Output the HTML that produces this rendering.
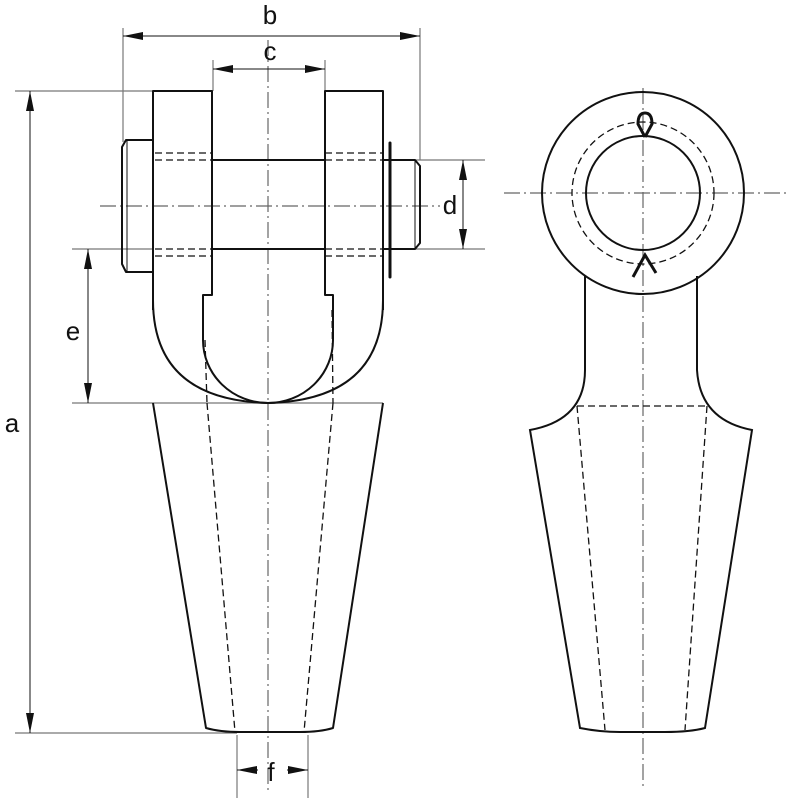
<!DOCTYPE html>
<html><head><meta charset="utf-8"><style>html,body{margin:0;padding:0;background:#fff}svg{display:block}text{font-family:"Liberation Sans",sans-serif;font-size:26px;fill:#111}</style></head><body>
<svg width="800" height="800" viewBox="0 0 800 800" xmlns="http://www.w3.org/2000/svg">
<defs>
<marker id="ar" viewBox="0 0 20 8" refX="20" refY="4" markerWidth="20" markerHeight="8" orient="auto-start-reverse" markerUnits="userSpaceOnUse"><path d="M0,0L20,4L0,8z" fill="#111"/></marker>
</defs>
<g stroke="#666" stroke-width="1.2" fill="none" stroke-dasharray="16,4,2,4">
<line x1="268" y1="40" x2="268" y2="790"/>
<line x1="100" y1="206" x2="440" y2="206"/>
<line x1="643" y1="88" x2="643" y2="790"/>
<line x1="504" y1="193" x2="790" y2="193"/>
</g>
<g stroke="#777" stroke-width="1.2" fill="none">
<line x1="123" y1="28" x2="123" y2="142"/>
<line x1="420" y1="28" x2="420" y2="160"/>
<line x1="213" y1="60" x2="213" y2="91"/>
<line x1="325" y1="60" x2="325" y2="91"/>
<line x1="15" y1="91" x2="153" y2="91"/>
<line x1="15" y1="733" x2="237" y2="733"/>
<line x1="383" y1="160" x2="485" y2="160"/>
<line x1="383" y1="249" x2="485" y2="249"/>
<line x1="72" y1="249" x2="153" y2="249"/>
<line x1="72" y1="403" x2="383" y2="403"/>
<line x1="237" y1="735" x2="237" y2="798"/>
<line x1="308" y1="735" x2="308" y2="798"/>
</g>
<g stroke="#111" stroke-width="1" fill="none">
<line x1="123" y1="36" x2="420" y2="36" marker-start="url(#ar)" marker-end="url(#ar)"/>
<line x1="213" y1="69" x2="325" y2="69" marker-start="url(#ar)" marker-end="url(#ar)"/>
<line x1="30" y1="91" x2="30" y2="733" marker-start="url(#ar)" marker-end="url(#ar)"/>
<line x1="463" y1="160" x2="463" y2="249" marker-start="url(#ar)" marker-end="url(#ar)"/>
<line x1="88" y1="249" x2="88" y2="403" marker-start="url(#ar)" marker-end="url(#ar)"/>
<line x1="258" y1="770" x2="237" y2="770" marker-end="url(#ar)"/>
<line x1="287" y1="770" x2="308" y2="770" marker-end="url(#ar)"/>
</g>
<text x="270" y="24" text-anchor="middle">b</text>
<text x="270" y="60" text-anchor="middle">c</text>
<text x="12" y="432" text-anchor="middle">a</text>
<text x="450" y="214" text-anchor="middle">d</text>
<text x="73" y="340" text-anchor="middle">e</text>
<text x="271" y="781" text-anchor="middle">f</text>
<g stroke="#111" stroke-width="2" fill="none" stroke-linejoin="round">
<path d="M153,310 L153,91 L212,91 L212,295 L203,295 L203,340 A65,63 0 0 0 333,340 L333,295 L325,295 L325,91 L383,91 L383,310"/>
<path d="M153,300 Q153,400 268,403 Q383,400 383,300"/>
<path d="M153,403 L206,728 Q220,732 240,732 L300,732 Q320,732 333,728 L383,403"/>
<line x1="212" y1="160" x2="325" y2="160"/>
<line x1="212" y1="249" x2="325" y2="249"/>
<path d="M153,140 L126,140 L122,147 L122,264 L126,272 L153,272"/>
<path d="M383,160 L415,160 L420,166 L420,243 L415,249 L383,249"/>
<line x1="127" y1="140" x2="127" y2="272" stroke-width="1"/>
<line x1="415" y1="160" x2="415" y2="249" stroke-width="1"/>
<line x1="390" y1="143" x2="390" y2="277" stroke-width="3" stroke-linecap="round"/>
</g>
<g stroke="#111" stroke-width="1.3" fill="none" stroke-dasharray="7,4">
<line x1="155" y1="153" x2="212" y2="153"/><line x1="155" y1="160" x2="212" y2="160"/>
<line x1="325" y1="153" x2="383" y2="153"/><line x1="325" y1="160" x2="383" y2="160"/>
<line x1="155" y1="249" x2="212" y2="249"/><line x1="155" y1="256" x2="212" y2="256"/>
<line x1="325" y1="249" x2="383" y2="249"/><line x1="325" y1="256" x2="383" y2="256"/>
<line x1="205" y1="340" x2="207" y2="403"/>
<line x1="332" y1="310" x2="333" y2="403"/>
<line x1="207" y1="403" x2="235" y2="732"/>
<line x1="333" y1="403" x2="304" y2="732"/>
</g>
<g stroke="#111" stroke-width="2" fill="none">
<circle cx="643" cy="193" r="101"/>
<circle cx="643" cy="193" r="57"/>
<path d="M585,276 L585,370 Q585,420 530,430 L580,728 Q600,732 620,732 L665,732 Q690,732 705,728 L752,430 Q700,420 697,370 L697,276"/>
<path d="M645,137 L638,124 Q638,113 645,113 Q652,113 652,124 L645,137" stroke-width="3"/>
<path d="M633,277 L645,255 L656,273" stroke-width="3"/>
</g>
<g stroke="#111" stroke-width="1.3" fill="none" stroke-dasharray="7,4">
<circle cx="643" cy="193" r="71"/>
<line x1="577" y1="406" x2="707" y2="406"/>
<line x1="577" y1="406" x2="605" y2="730"/>
<line x1="707" y1="406" x2="685" y2="730"/>
</g>
</svg>
</body></html>
